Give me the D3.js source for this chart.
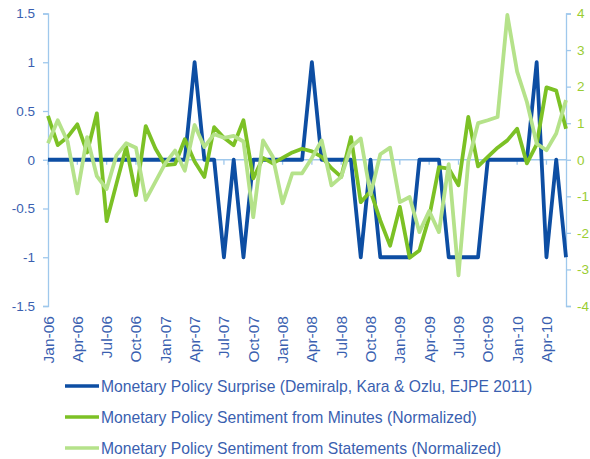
<!DOCTYPE html>
<html><head><meta charset="utf-8">
<script src="https://cdn.jsdelivr.net/npm/d3@7"></script>
<style>
html,body{margin:0;padding:0;background:#fff;}
svg{display:block;font-family:"Liberation Sans",Arial,sans-serif;}
</style></head>
<body>
<script>
const months = ["Jan-06","Feb-06","Mar-06","Apr-06","May-06","Jun-06","Jul-06","Aug-06","Sep-06","Oct-06","Nov-06","Dec-06",
"Jan-07","Feb-07","Mar-07","Apr-07","May-07","Jun-07","Jul-07","Aug-07","Sep-07","Oct-07","Nov-07","Dec-07",
"Jan-08","Feb-08","Mar-08","Apr-08","May-08","Jun-08","Jul-08","Aug-08","Sep-08","Oct-08","Nov-08","Dec-08",
"Jan-09","Feb-09","Mar-09","Apr-09","May-09","Jun-09","Jul-09","Aug-09","Sep-09","Oct-09","Nov-09","Dec-09",
"Jan-10","Feb-10","Mar-10","Apr-10","May-10","Jun-10"];
const tickLabels = ["Jan-06","Apr-06","Jul-06","Oct-06","Jan-07","Apr-07","Jul-07","Oct-07","Jan-08","Apr-08","Jul-08","Oct-08","Jan-09","Apr-09","Jul-09","Oct-09","Jan-10","Apr-10"];
const surprise = [0,0,0,0,0,0,0,0,0,0,0,0,0,0,0,1,0,0,-1,0,-1,0,0,0,0,0,0,1,0,0,0,0,-1,0,-1,-1,-1,-1,0,0,0,-1,-1,-1,-1,0,0,0,0,0,1,-1,0,-1];
const minutes = [1.2,0.4,0.62,0.97,0.2,1.27,-1.68,-0.66,0.35,-0.97,0.92,0.3,-0.15,-0.12,0.56,-0.05,-0.47,0.89,0.6,0.4,1.08,-0.51,
0.05,-0.1,0.05,0.2,0.3,0.23,0.08,-0.23,-0.47,0.62,-1.16,-0.86,-1.66,-2.35,-1.29,-2.68,-2.48,-1.57,-0.2,-0.24,-0.7,1.17,-0.18,0.08,0.33,0.53,0.85,-0.1,0.42,1.98,1.89,0.85];
const statements = [0.45,1.08,0.5,-0.92,0.62,-0.45,-0.8,0.12,0.45,0.33,-1.1,-0.6,-0.1,0.25,-0.3,0.95,0.35,0.7,0.6,0.65,0.5,-1.57,
0.53,0.08,-1.19,-0.37,-0.37,0.05,0.53,-0.7,-0.47,0.35,0.58,-0.95,0.15,0.33,-1.16,-1.02,-1.98,-1.4,-1.98,-0.12,-3.16,-0.05,1.0,1.08,1.17,3.96,2.41,1.58,0.44,0.26,0.72,1.63];
const leftTicks = [-1.5,-1,-0.5,0,0.5,1,1.5];
const rightTicks = [-4,-3,-2,-1,0,1,2,3,4];
const seriesNames = ["Monetary Policy Surprise (Demiralp, Kara & Ozlu, EJPE 2011)","Monetary Policy Sentiment from Minutes (Normalized)","Monetary Policy Sentiment from Statements (Normalized)"];

const W=590,H=459;
const C_BLUE="#0d4ea3", C_DG="#7cc125", C_LG="#b5e28a", C_AX="#9fc8ec";
const svg=d3.select("body").append("svg").attr("width",W).attr("height",H);

const x=d3.scaleLinear().domain([0,months.length-1]).range([48,566]);
const yL=d3.scaleLinear().domain([-1.5,1.5]).range([306,13.5]);
const yR=d3.scaleLinear().domain([-4,4]).range([306,13.5]);

// left axis
const ga=svg.append("g").attr("transform","translate(48,0)")
  .call(d3.axisLeft(yL).tickValues(leftTicks).tickSize(5).tickPadding(8).tickFormat(d=>String(d)));
ga.select(".domain").attr("stroke",C_AX).attr("stroke-width",1.3);
ga.selectAll(".tick line").attr("stroke",C_AX).attr("stroke-width",1.3);
ga.selectAll("text").attr("fill","#3a5fb0").attr("font-size",13.5);

// right axis
const gr=svg.append("g").attr("transform","translate(566,0)")
  .call(d3.axisRight(yR).tickValues(rightTicks).tickSize(5).tickPadding(6).tickFormat(d=>String(d)));
gr.select(".domain").attr("stroke",C_AX).attr("stroke-width",1.3);
gr.selectAll(".tick line").attr("stroke",C_AX).attr("stroke-width",1.3);
gr.selectAll("text").attr("fill","#9acd32").attr("font-size",13.5);

// category axis at zero
const tickIdx = tickLabels.map(t=>months.indexOf(t));
svg.append("line").attr("x1",48).attr("x2",566).attr("y1",yL(0)).attr("y2",yL(0)).attr("stroke",C_AX).attr("stroke-width",1.3);
svg.append("g").selectAll("line").data(tickIdx).join("line")
  .attr("x1",d=>x(d)).attr("x2",d=>x(d)).attr("y1",yL(0)).attr("y2",yL(0)+5)
  .attr("stroke",C_AX).attr("stroke-width",1.3);
svg.append("g").selectAll("text").data(tickIdx).join("text")
  .attr("transform",d=>`translate(${x(d)+5.5},316) rotate(-90)`)
  .attr("text-anchor","end").attr("fill","#3a5fb0").attr("font-size",15.5)
  .text(d=>months[d]);

// lines
const lineL=d3.line().x((d,i)=>x(i)).y(d=>yL(d));
const lineR=d3.line().x((d,i)=>x(i)).y(d=>yR(d));
svg.append("path").datum(surprise).attr("d",lineL).attr("fill","none").attr("stroke",C_BLUE).attr("stroke-width",3.8).attr("stroke-linejoin","round");
svg.append("path").datum(minutes).attr("d",lineR).attr("fill","none").attr("stroke",C_DG).attr("stroke-width",3.8).attr("stroke-linejoin","round");
svg.append("path").datum(statements).attr("d",lineR).attr("fill","none").attr("stroke",C_LG).attr("stroke-width",3.8).attr("stroke-linejoin","round");

// legend
const cols=[C_BLUE,C_DG,C_LG];
const lg=svg.append("g").selectAll("g").data(seriesNames).join("g")
  .attr("transform",(d,i)=>`translate(0,${386+i*31})`);
lg.append("line").attr("x1",65).attr("x2",99).attr("y1",0).attr("y2",0).attr("stroke",(d,i)=>cols[i]).attr("stroke-width",3.5);
lg.append("text").attr("x",101).attr("y",5.5).attr("fill","#3a5fb0").attr("font-size",15.7).text(d=>d);
</script>
</body></html>
